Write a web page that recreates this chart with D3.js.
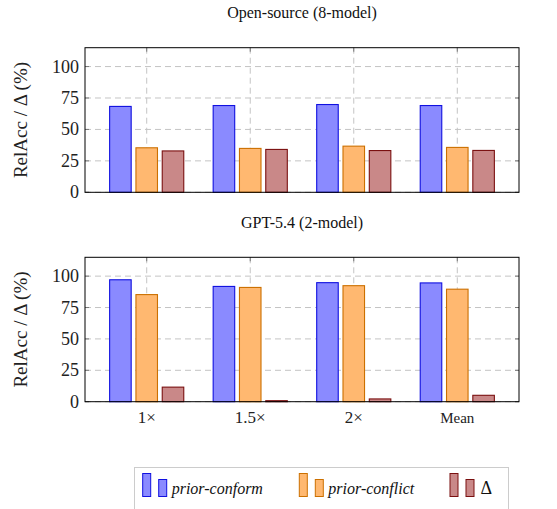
<!DOCTYPE html>
<html><head><meta charset="utf-8">
<script src="https://cdn.jsdelivr.net/npm/d3@7"></script>
<style>body{margin:0;background:#fff}svg{display:block}
svg text{font-family:"Liberation Serif","Times New Roman",Times,"DejaVu Serif",serif}
</style>
</head><body><div id="chart"></div>
<script>
const categories = ["1×", "1.5×", "2×", "Mean"];
const seriesNames = ["prior-conform", "prior-conflict", "Δ"];
const panelTitles = ["Open-source (8-model)", "GPT-5.4 (2-model)"];
const openConform = [68.3, 69.0, 69.8, 69.0];
const openConflict = [35.4, 34.9, 36.7, 35.7];
const openDelta = [32.9, 34.1, 33.2, 33.3];
const gptConform = [97.1, 91.8, 94.8, 94.6];
const gptConflict = [85.3, 91.0, 92.4, 89.6];
const gptDelta = [11.6, 0.8, 2.2, 5.1];
const yTicks = [0, 25, 50, 75, 100];

const W = 557, H = 509;
const fills = ["#8a8aff", "#ffb870", "#c98888"];
const strokes = ["#1010e0", "#cc7000", "#7a1010"];

const svg = d3.select("#chart").append("svg").attr("width", W).attr("height", H);

const x = d3.scaleLinear().domain([-0.596, 3.596]).range([85, 519]);
const offs = [-0.254, 0, 0.254];
const bw = 0.208;

const panels = [
  {title: panelTitles[0], series: [openConform, openConflict, openDelta], top: 47.7, bottom: 192.3, titleY: 18, xlabels: false},
  {title: panelTitles[1], series: [gptConform, gptConflict, gptDelta], top: 257.3, bottom: 401.7, titleY: 228, xlabels: true}
];

panels.forEach(p => {
  const y = d3.scaleLinear().domain([0, 115]).range([p.bottom, p.top]);
  const g = svg.append("g");
  const x0 = x.range()[0], x1 = x.range()[1];
  g.selectAll(".hg").data(yTicks).enter().append("line")
    .attr("x1", x0).attr("x2", x1).attr("y1", d => y(d)).attr("y2", d => y(d))
    .attr("stroke", "#c4c4c4").attr("stroke-width", 1).attr("stroke-dasharray", "6,4");
  g.selectAll(".vg").data(categories).enter().append("line")
    .attr("x1", (d, i) => x(i)).attr("x2", (d, i) => x(i)).attr("y1", p.top).attr("y2", p.bottom)
    .attr("stroke", "#c4c4c4").attr("stroke-width", 1).attr("stroke-dasharray", "6,4");
  const tk = 4;
  yTicks.forEach(t => {
    g.append("line").attr("x1", x0).attr("x2", x0 + tk).attr("y1", y(t)).attr("y2", y(t)).attr("stroke", "#777");
    g.append("line").attr("x1", x1).attr("x2", x1 - tk).attr("y1", y(t)).attr("y2", y(t)).attr("stroke", "#777");
  });
  categories.forEach((c, i) => {
    g.append("line").attr("x1", x(i)).attr("x2", x(i)).attr("y1", p.top).attr("y2", p.top + tk).attr("stroke", "#777");
    g.append("line").attr("x1", x(i)).attr("x2", x(i)).attr("y1", p.bottom).attr("y2", p.bottom - tk).attr("stroke", "#777");
  });
  p.series.forEach((vals, j) => {
    g.selectAll(".b" + j).data(vals).enter().append("rect")
      .attr("x", (d, i) => x(i + offs[j] - bw / 2))
      .attr("width", x(bw) - x(0))
      .attr("y", d => y(d))
      .attr("height", d => y(0) - y(d))
      .attr("fill", fills[j]).attr("stroke", strokes[j]).attr("stroke-width", 1.1);
  });
  g.append("rect").attr("x", x0).attr("y", p.top).attr("width", x1 - x0).attr("height", p.bottom - p.top)
    .attr("fill", "none").attr("stroke", "#000").attr("stroke-width", 1);
  g.selectAll(".yl").data(yTicks).enter().append("text")
    .attr("x", 79).attr("y", d => y(d) + 6).attr("text-anchor", "end")
    .attr("font-size", 18).attr("fill", "#222").text(d => d);
  const cy = (p.top + p.bottom) / 2;
  g.append("text").attr("transform", `translate(27,${cy}) rotate(-90)`).attr("text-anchor", "middle")
    .attr("font-size", 19).attr("fill", "#222").text("RelAcc / Δ (%)");
  g.append("text").attr("x", (x0 + x1) / 2).attr("y", p.titleY).attr("text-anchor", "middle")
    .attr("font-size", 16).attr("fill", "#111").text(p.title);
  if (p.xlabels) {
    g.selectAll(".xl").data(categories).enter().append("text")
      .attr("x", (d, i) => x(i)).attr("y", 423).attr("text-anchor", "middle")
      .attr("font-size", d => d === "Mean" ? 15 : 17).attr("fill", "#222").text(d => d);
  }
});

const lg = svg.append("g");
lg.append("rect").attr("x", 134.5).attr("y", 467.5).attr("width", 374).attr("height", 45)
  .attr("fill", "#fff").attr("stroke", "#cccccc").attr("stroke-width", 1);
const legX = [142.7, 299.3, 450];
seriesNames.forEach((s, j) => {
  const lx = legX[j];
  lg.append("rect").attr("x", lx).attr("y", 473.5).attr("width", 8).attr("height", 23)
    .attr("fill", fills[j]).attr("stroke", strokes[j]).attr("stroke-width", 1);
  lg.append("rect").attr("x", lx + 16).attr("y", 479.5).attr("width", 8).attr("height", 17)
    .attr("fill", fills[j]).attr("stroke", strokes[j]).attr("stroke-width", 1);
  lg.append("text").attr("x", lx + (j === 2 ? 30.5 : 29)).attr("y", 494)
    .attr("font-size", j === 2 ? 18 : 16).attr("font-style", j === 2 ? "normal" : "italic")
    .attr("fill", "#111").text(s);
});
</script></body></html>
